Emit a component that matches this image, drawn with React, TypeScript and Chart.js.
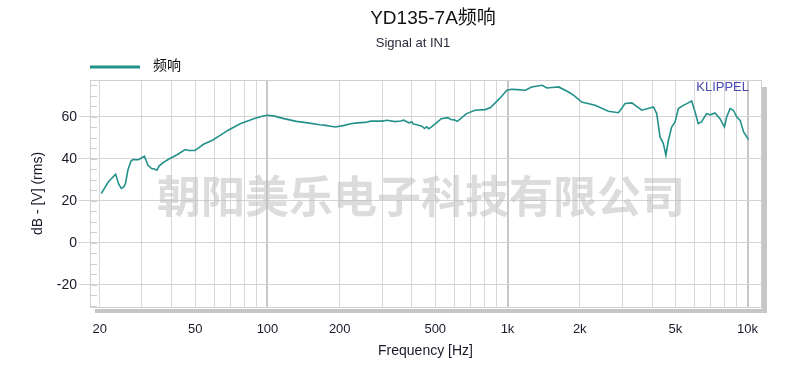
import React, { useEffect, useRef } from "react";
import { Chart, registerables } from "chart.js";

Chart.register(...registerables);

const TITLE = "YD135-7A频响";
const SUBTITLE = "Signal at IN1";
const SERIES_NAME = "频响";
const WATERMARK = "朝阳美乐电子科技有限公司";
const BRAND = "KLIPPEL";
const X_TITLE = "Frequency [Hz]";
const Y_TITLE = "dB - [V] (rms)";

const freqs: number[] = [
  20.3, 21.7, 23.3, 24.0, 24.6, 25.2, 25.6, 26.2, 27.0, 27.5, 29.0, 30.7, 31.8, 32.9, 33.8, 34.6,
  35.4, 37, 39.2, 42, 45.4, 47, 49.9, 52, 54.1, 59.0, 63, 68.6, 77.0, 87.6, 94, 99.5, 106, 117,
  132, 147, 165, 175, 183, 192, 209, 222, 236, 255, 270, 300, 315, 340, 359, 370, 380, 389, 400,
  405, 416, 440, 451, 460, 470, 481, 510, 530, 565, 580, 600, 618,
  675, 733, 807, 850, 889, 940, 994, 1042, 1100, 1187, 1260, 1393, 1460, 1532, 1632, 1795, 1900,
  2038, 2316, 2632, 2900, 3090, 3295, 3625, 4054, 4185, 4320, 4460, 4570, 4680, 4830, 4990, 5150,
  5400, 5665, 5850, 6075, 6230, 6430, 6750, 7000, 7315, 7680, 8010, 8190, 8460, 8730, 9020, 9320,
  9630, 10100,
];

const levels: number[] = [
  23.5, 29, 32.7, 28, 26, 26.7, 28.3, 34.6, 39, 39.7, 39.6, 41.3, 37, 35.4, 35.2, 34.6,
  36.7, 38.5, 40.2, 42, 44.5, 44, 44.1, 45.5, 47, 48.9, 51, 53.7, 56.8, 59.2, 60.2, 60.8, 60.5, 59.2,
  57.9, 57.2, 56.3, 56.0, 55.6, 55.2, 56, 56.8, 57.2, 57.4, 58, 58, 58.4, 57.8, 58.1, 58.5, 57.7, 57.2, 57.6,
  56.6, 56.4, 55.6, 54.5, 55.3, 54.4, 55.2, 57.5, 59.2, 59.7, 58.8, 58.6, 57.9,
  61.6, 63.2, 63.5, 64.5, 66.7, 69.5, 72.7, 73.2, 73, 72.7, 74.3, 75.1, 73.8, 74, 74.3, 71.9, 70,
  67.1, 65.6, 62.7, 62, 66.4, 66.7, 63.2, 64.8, 61.6, 50.5, 47.3, 41.8, 48.9, 55.2, 57.6, 64,
  65.5, 66.7, 67.6, 61.6, 56.8, 57.6, 61.6, 61, 61.9, 59.2, 55.2, 60, 64, 63.2, 60, 58.4,
  52.9, 49.2,
];

const xGridFreqs: number[] = [
  20, 30, 40, 50, 60, 70, 80, 90, 100, 200, 300, 400, 500, 600, 700, 800, 900, 1000,
  2000, 3000, 4000, 5000, 6000, 7000, 8000, 9000, 10000,
];
const xDecadeFreqs: number[] = [100, 1000, 10000];
const xLabelFreqs: number[] = [20, 50, 100, 200, 500, 1000, 2000, 5000, 10000];
const xLabelTexts: string[] = ["20", "50", "100", "200", "500", "1k", "2k", "5k", "10k"];
const yTicks: number[] = [-20, 0, 20, 40, 60];
const yMinorTicks: number[] = [-30, -25, -20, -15, -10, -5, 0, 5, 10, 15, 20, 25, 30, 35, 40, 45, 50, 55, 60, 65, 70, 75];

const X_MIN = 18.22;
const X_MAX = 11380;
const Y_MIN = -30.5;
const Y_MAX = 77.6;

const LINE_COLOR = "#23918a";
const FONT = "'Liberation Sans', Arial, 'Noto Sans CJK SC', sans-serif";

const decorPlugin = {
  id: "decor",
  beforeDatasetsDraw(chart: any) {
    const { ctx, chartArea } = chart;
    const ys = chart.scales.y;
    ctx.save();
    ctx.strokeStyle = "#cfcfcf";
    ctx.lineWidth = 1;
    yMinorTicks.forEach((v) => {
      const y = Math.round(ys.getPixelForValue(v)) + 0.5;
      ctx.beginPath();
      ctx.moveTo(chartArea.left, y);
      ctx.lineTo(chartArea.left + 7, y);
      ctx.stroke();
    });
    ctx.font = `bold 44px 'Noto Sans CJK SC', sans-serif`;
    ctx.fillStyle = "rgba(185,185,185,0.5)";
    ctx.textAlign = "center";
    ctx.textBaseline = "middle";
    ctx.fillText(WATERMARK, 421, 196);
    ctx.restore();
  },
  afterDraw(chart: any) {
    const { ctx, chartArea } = chart;
    const { left, right, top, bottom } = chartArea;
    ctx.save();
    ctx.strokeStyle = "#d0d0d0";
    ctx.lineWidth = 1;
    ctx.strokeRect(Math.round(left) + 0.5, Math.round(top) + 0.5, Math.round(right - left), Math.round(bottom - top));
    ctx.fillStyle = "#c6c6c6";
    ctx.fillRect(right + 1, top + 7, 5, bottom - top - 1);
    ctx.fillRect(left + 5, bottom + 2, right - left + 1, 4);
    ctx.font = `13px ${FONT}`;
    ctx.fillStyle = "#4b4bb3";
    ctx.textAlign = "right";
    ctx.textBaseline = "middle";
    ctx.fillText(BRAND, right - 12, top + 7);
    ctx.fillStyle = "#111";
    ctx.textAlign = "center";
    ctx.font = `19px ${FONT}`;
    ctx.fillText(TITLE, 433, 19);
    ctx.font = `13px ${FONT}`;
    ctx.fillStyle = "#2a2a3a";
    ctx.fillText(SUBTITLE, 413, 43);
    ctx.strokeStyle = LINE_COLOR;
    ctx.lineWidth = 3;
    ctx.beginPath();
    ctx.moveTo(90, 67);
    ctx.lineTo(140, 67);
    ctx.stroke();
    ctx.font = `14px ${FONT}`;
    ctx.fillStyle = "#111";
    ctx.textAlign = "left";
    ctx.fillText(SERIES_NAME, 153, 66);
    ctx.restore();
  },
};

export default function App() {
  const ref = useRef<HTMLCanvasElement | null>(null);

  useEffect(() => {
    document.body.style.margin = "0";
    const canvas = ref.current;
    if (!canvas) return;
    const data = freqs.map((f, i) => ({ x: f, y: levels[i] }));
    const chart = new Chart(canvas, {
      type: "line",
      data: {
        datasets: [
          {
            label: SERIES_NAME,
            data,
            borderColor: LINE_COLOR,
            borderWidth: 1.6,
            pointRadius: 0,
            tension: 0,
            fill: false,
          },
        ],
      },
      options: {
        responsive: false,
        animation: false,
        devicePixelRatio: 1,
        layout: { padding: { top: 80, right: 29, left: 0, bottom: 0 } },
        plugins: {
          legend: { display: false },
          title: { display: false },
          tooltip: { enabled: false },
        },
        scales: {
          x: {
            type: "logarithmic",
            min: X_MIN,
            max: X_MAX,
            afterBuildTicks: (scale: any) => {
              scale.ticks = xGridFreqs.map((v) => ({ value: v }));
            },
            afterFit: (scale: any) => {
              scale.height = 83;
            },
            grid: {
              drawTicks: false,
              color: (c: any) => (xDecadeFreqs.includes(c.tick?.value) ? "#c8c8c8" : "#d8d8d8"),
              lineWidth: (c: any) => (xDecadeFreqs.includes(c.tick?.value) ? 2 : 1),
            },
            border: { display: false },
            ticks: {
              autoSkip: false,
              maxRotation: 0,
              padding: 15,
              color: "#1a1a2a",
              font: { family: FONT, size: 13 },
              callback: (value: any) => {
                const idx = xLabelFreqs.indexOf(Number(value));
                return idx >= 0 ? xLabelTexts[idx] : "";
              },
            },
            title: {
              display: true,
              text: X_TITLE,
              color: "#1a1a2a",
              font: { family: FONT, size: 14 },
              padding: { top: 0, bottom: 30 },
            },
          },
          y: {
            type: "linear",
            min: Y_MIN,
            max: Y_MAX,
            afterBuildTicks: (scale: any) => {
              scale.ticks = yTicks.map((v) => ({ value: v }));
            },
            afterFit: (scale: any) => {
              scale.width = 90;
            },
            grid: {
              color: "#d4d4d4",
              tickLength: 11,
              lineWidth: 1,
            },
            border: { display: false },
            ticks: {
              padding: 2,
              color: "#1a1a2a",
              font: { family: FONT, size: 14 },
              callback: (value: any) => String(value),
            },
            title: {
              display: true,
              text: Y_TITLE,
              color: "#1a1a2a",
              font: { family: FONT, size: 14 },
              padding: { top: 30, bottom: 0 },
            },
          },
        },
      },
      plugins: [decorPlugin],
    } as any);
    return () => chart.destroy();
  }, []);

  return (
    <div style={{ width: 790, height: 390, background: "#fff" }}>
      <canvas ref={ref} width={790} height={390} style={{ display: "block" }} />
    </div>
  );
}
